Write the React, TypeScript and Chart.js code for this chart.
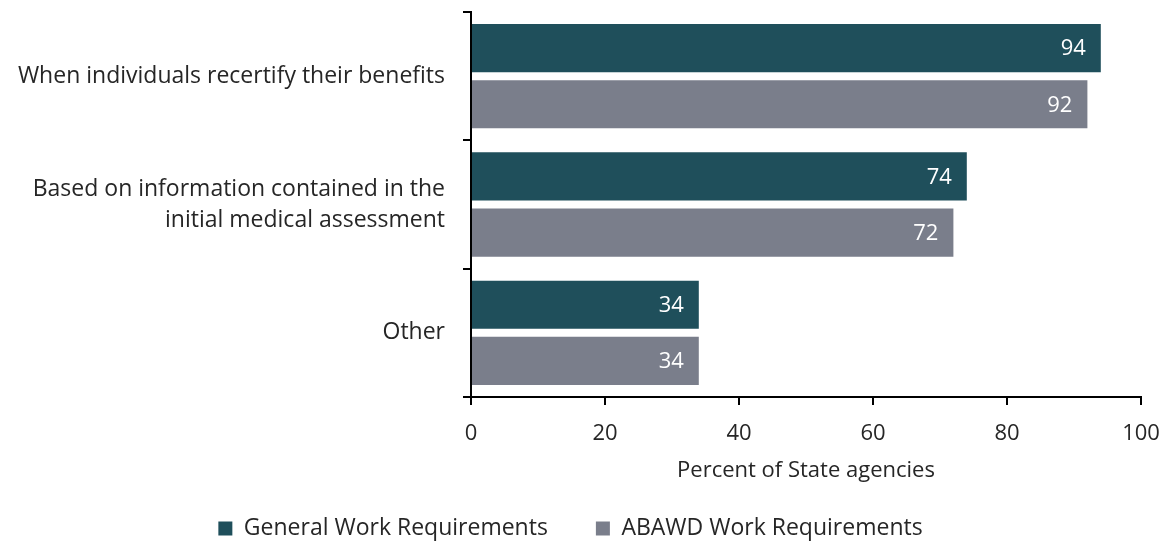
import React, { useEffect, useRef } from "react";
import { Chart, registerables } from "chart.js";

Chart.register(...registerables);

const categories: (string | string[])[] = [
  "When individuals recertify their benefits",
  ["Based on information contained in the", "initial medical assessment"],
  "Other",
];
const generalValues = [94, 74, 34];
const abawdValues = [92, 72, 34];
const seriesNames = ["General Work Requirements", "ABAWD Work Requirements"];
const xTicks = [0, 20, 40, 60, 80, 100];
const axisTitle = "Percent of State agencies";

const TEAL = "#1f4f5b";
const GREY = "#7a7e8b";
const TEXT = "#262626";
const FONT = "'Open Sans'";

const valueLabels = {
  id: "valueLabels",
  afterDatasetsDraw(chart: any) {
    const ctx = chart.ctx;
    ctx.save();
    ctx.fillStyle = "#ffffff";
    ctx.font = `22px ${FONT}`;
    ctx.textAlign = "right";
    ctx.textBaseline = "middle";
    chart.data.datasets.forEach((ds: any, i: number) => {
      const meta = chart.getDatasetMeta(i);
      meta.data.forEach((el: any, j: number) => {
        ctx.fillText(String(ds.data[j]), el.x - 15, el.y + 1);
      });
    });
    ctx.restore();
  },
};

export default function App() {
  const ref = useRef<HTMLCanvasElement>(null);
  useEffect(() => {
    const chart = new Chart(ref.current!, {
      type: "bar",
      data: {
        labels: categories,
        datasets: [
          {
            label: seriesNames[0],
            data: generalValues,
            backgroundColor: TEAL,
            categoryPercentage: 0.875,
            barPercentage: 0.857,
          },
          {
            label: seriesNames[1],
            data: abawdValues,
            backgroundColor: GREY,
            categoryPercentage: 0.875,
            barPercentage: 0.857,
          },
        ],
      },
      options: {
        indexAxis: "y",
        animation: false,
        responsive: false,
        maintainAspectRatio: false,
        layout: { padding: { top: 12, right: 32, left: 0, bottom: -6 } },
        scales: {
          y: {
            type: "category",
            offset: true,
            grid: {
              offset: true,
              drawOnChartArea: false,
              tickLength: 8,
              color: "#000",
              lineWidth: 2,
            },
            border: { color: "#000", width: 2 },
            ticks: {
              color: TEXT,
              font: { family: FONT, size: 23, lineHeight: 1.35 },
              padding: 18,
            },
            afterFit(scale: any) {
              scale.width = 471;
              scale.paddingTop = 0;
              scale.paddingBottom = 0;
            },
          },
          x: {
            min: 0,
            max: 100,
            afterBuildTicks(scale: any) {
              scale.ticks = xTicks.map((v) => ({ value: v }));
            },
            grid: {
              drawOnChartArea: false,
              tickLength: 8,
              color: "#000",
              lineWidth: 2,
            },
            border: { color: "#000", width: 2 },
            ticks: {
              color: TEXT,
              font: { family: FONT, size: 22 },
              padding: 16,
              maxRotation: 0,
            },
            title: {
              display: true,
              text: axisTitle,
              color: TEXT,
              font: { family: FONT, size: 22 },
              padding: { top: 0, bottom: -15 },
            },
            afterFit(scale: any) {
              scale.height = 72;
              scale.paddingLeft = 0;
              scale.paddingRight = 0;
            },
          },
        },
        plugins: {
          legend: {
            position: "bottom",
            labels: {
              color: TEXT,
              font: { family: FONT, size: 23, lineHeight: 0.6 },
              boxWidth: 14,
              boxHeight: 14,
              padding: 48,
            },
          },
          tooltip: { enabled: false },
        },
      },
      plugins: [valueLabels],
    } as any);
    return () => chart.destroy();
  }, []);
  return (
    <div style={{ position: "absolute", left: 0, top: 0, width: 1173, height: 544 }}>
      <canvas ref={ref} width={1173} height={544} style={{ display: "block" }} />
    </div>
  );
}
